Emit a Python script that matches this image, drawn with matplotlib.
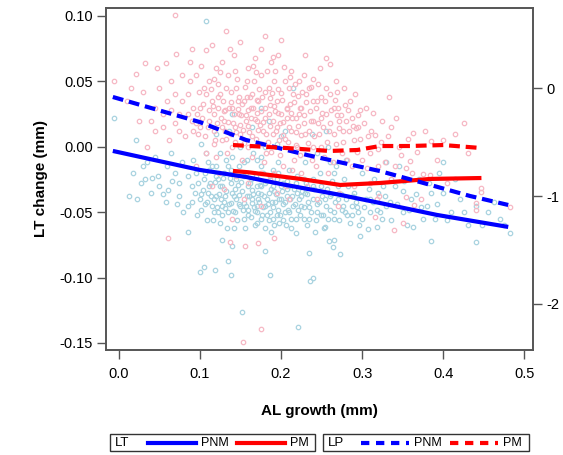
import matplotlib
matplotlib.use("Agg")
import matplotlib.pyplot as plt
from matplotlib.lines import Line2D
from matplotlib.patches import Rectangle

plt.rcParams["font.family"] = ["Liberation Sans", "DejaVu Sans"]

# fitted curves, LT on the left axis
lt_pnm_x = [-0.007, 0.1, 0.157, 0.2, 0.273, 0.322, 0.392, 0.48]
lt_pnm_y = [-0.0032, -0.0177, -0.0231, -0.0285, -0.0368, -0.043, -0.0521, -0.0613]
lt_pm_x = [0.141, 0.16, 0.224, 0.273, 0.322, 0.384, 0.447]
lt_pm_y = [-0.0185, -0.0195, -0.0246, -0.0292, -0.0277, -0.0246, -0.0239]

# fitted curves, LP on the right axis
lp_pnm_x = [-0.007, 0.1, 0.157, 0.232, 0.322, 0.371, 0.433, 0.48]
lp_pnm_y = [-0.083, -0.315, -0.481, -0.620, -0.769, -0.87, -1.0, -1.083]
lp_pm_x = [0.141, 0.2075, 0.26, 0.294, 0.322, 0.359, 0.40, 0.447]
lp_pm_y = [-0.528, -0.556, -0.583, -0.574, -0.537, -0.537, -0.528, -0.556]

# individual observations (AL growth, LT change)
pnm_points = [
    (-0.005, 0.022), (0.022, 0.005), (0.013, -0.038), (0.023, -0.040), (0.028, -0.028),
    (0.033, -0.025), (0.041, -0.024), (0.049, -0.022), (0.055, -0.036), (0.061, -0.033),
    (0.075, -0.038), (0.035, -0.012), (0.045, -0.008), (0.06, -0.015), (0.07, -0.02),
    (0.065, -0.005), (0.03, -0.015), (0.075, -0.028), (0.05, -0.03), (0.078, -0.012),
    (0.086, -0.045), (0.086, -0.065), (0.1, -0.096), (0.105, -0.092), (0.109, -0.056),
    (0.09, -0.03), (0.095, -0.02), (0.1, -0.04), (0.105, -0.025), (0.11, -0.035),
    (0.115, -0.045), (0.12, -0.015), (0.118, -0.05), (0.092, -0.01), (0.108, -0.005),
    (0.113, -0.028), (0.097, -0.052), (0.12, -0.038), (0.085, -0.022), (0.102, 0.002),
    (0.119, -0.094), (0.128, -0.071), (0.135, -0.087), (0.139, -0.098), (0.14, -0.076),
    (0.152, -0.126), (0.125, -0.03), (0.13, -0.042), (0.135, -0.05), (0.14, -0.035),
    (0.145, -0.025), (0.15, -0.045), (0.155, -0.055), (0.13, -0.02), (0.125, -0.058),
    (0.142, -0.062), (0.148, -0.015), (0.158, -0.038), (0.133, -0.01), (0.16, -0.03),
    (0.128, -0.045), (0.153, -0.048), (0.138, -0.028), (0.145, -0.04), (0.157, -0.02),
    (0.122, -0.025), (0.15, 0.0), (0.136, 0.012), (0.108, 0.096),
    (0.181, -0.080), (0.187, -0.098), (0.165, -0.04), (0.17, -0.05), (0.175, -0.03),
    (0.18, -0.045), (0.185, -0.035), (0.19, -0.055), (0.195, -0.025), (0.2, -0.04),
    (0.205, -0.05), (0.21, -0.03), (0.215, -0.045), (0.168, -0.06), (0.178, -0.02),
    (0.188, -0.065), (0.198, -0.058), (0.208, -0.038), (0.218, -0.055), (0.172, -0.035),
    (0.183, -0.052), (0.193, -0.042), (0.203, -0.028), (0.212, -0.062), (0.163, -0.025),
    (0.176, -0.015), (0.196, -0.012), (0.22, -0.035), (0.17, -0.045), (0.19, -0.03),
    (0.2, 0.008), (0.185, 0.02), (0.166, -0.005),
    (0.221, -0.138), (0.236, -0.103), (0.239, -0.100), (0.235, -0.081), (0.273, -0.082),
    (0.264, -0.077), (0.259, -0.072), (0.266, -0.071), (0.254, -0.061), (0.225, -0.045),
    (0.23, -0.035), (0.235, -0.055), (0.24, -0.04), (0.245, -0.05), (0.25, -0.03),
    (0.255, -0.045), (0.26, -0.038), (0.265, -0.055), (0.27, -0.03), (0.275, -0.048),
    (0.28, -0.04), (0.285, -0.058), (0.29, -0.035), (0.295, -0.05), (0.228, -0.025),
    (0.248, -0.02), (0.268, -0.015), (0.232, -0.06), (0.252, -0.052), (0.278, -0.025),
    (0.242, -0.065), (0.288, -0.045), (0.258, 0.0), (0.238, 0.01),
    (0.297, -0.068), (0.307, -0.063), (0.318, -0.061), (0.363, -0.061), (0.385, -0.072),
    (0.44, -0.073), (0.482, -0.066), (0.305, -0.04), (0.31, -0.05), (0.32, -0.035),
    (0.33, -0.045), (0.34, -0.03), (0.35, -0.05), (0.36, -0.04), (0.37, -0.025),
    (0.38, -0.045), (0.39, -0.055), (0.4, -0.035), (0.41, -0.05), (0.42, -0.04),
    (0.43, -0.06), (0.44, -0.045), (0.455, -0.05), (0.47, -0.055), (0.325, -0.055),
    (0.345, -0.015), (0.355, -0.06), (0.375, -0.055), (0.395, -0.02), (0.415, -0.025),
    (0.33, -0.012), (0.40, -0.012), (0.315, -0.025), (0.385, -0.035), (0.35, -0.034),
    (0.091, -0.042), (0.094, -0.035), (0.098, -0.028), (0.101, -0.048), (0.104, -0.033),
    (0.107, -0.044), (0.111, -0.018), (0.114, -0.038), (0.116, -0.056), (0.119, -0.027),
    (0.121, -0.046), (0.124, -0.036), (0.127, -0.052), (0.129, -0.024), (0.131, -0.038),
    (0.134, -0.062), (0.136, -0.044), (0.139, -0.018), (0.141, -0.049), (0.143, -0.032),
    (0.146, -0.056), (0.149, -0.037), (0.151, -0.027), (0.154, -0.043), (0.156, -0.062),
    (0.159, -0.048), (0.161, -0.038), (0.163, -0.054), (0.165, -0.033), (0.167, -0.046),
    (0.169, -0.022), (0.171, -0.058), (0.173, -0.042), (0.174, -0.029), (0.177, -0.052),
    (0.179, -0.038), (0.181, -0.062), (0.182, -0.026), (0.184, -0.044), (0.186, -0.05),
    (0.188, -0.032), (0.189, -0.042), (0.191, -0.06), (0.194, -0.036), (0.196, -0.048),
    (0.197, -0.02), (0.199, -0.052), (0.201, -0.034), (0.203, -0.044), (0.206, -0.06),
    (0.207, -0.026), (0.209, -0.048), (0.211, -0.04), (0.213, -0.055), (0.216, -0.032),
    (0.217, -0.044), (0.219, -0.066), (0.222, -0.04), (0.224, -0.052), (0.226, -0.034),
    (0.229, -0.046), (0.231, -0.028), (0.233, -0.042), (0.237, -0.05), (0.241, -0.032),
    (0.243, -0.056), (0.247, -0.042), (0.251, -0.038), (0.253, -0.062), (0.257, -0.032),
    (0.261, -0.048), (0.263, -0.026), (0.267, -0.042), (0.272, -0.056), (0.274, -0.036),
    (0.279, -0.05), (0.283, -0.03), (0.287, -0.052), (0.292, -0.042), (0.296, -0.06),
    (0.302, -0.046), (0.308, -0.032), (0.313, -0.042), (0.322, -0.05), (0.328, -0.038),
    (0.336, -0.056), (0.343, -0.044), (0.352, -0.026), (0.358, -0.048), (0.366, -0.036),
    (0.373, -0.046), (0.382, -0.028), (0.392, -0.044), (0.405, -0.056), (0.425, -0.05),
    (0.448, -0.06), (0.462, -0.042), (0.475, -0.06), (0.08, -0.05), (0.072, -0.044),
    (0.066, -0.026), (0.058, -0.042), (0.04, -0.035), (0.018, -0.02), (0.11, -0.012),
    (0.125, -0.005), (0.14, -0.008), (0.155, -0.012), (0.17, -0.01), (0.18, 0.0),
    (0.195, 0.002), (0.21, -0.018), (0.23, -0.012), (0.245, -0.005), (0.26, -0.012),
    (0.28, -0.01), (0.3, -0.02), (0.12, 0.01), (0.165, 0.015), (0.205, 0.012),
    (0.175, 0.03), (0.215, 0.045), (0.255, 0.012), (0.14, 0.025),
    (0.102, -0.036), (0.106, -0.02), (0.109, -0.042), (0.112, -0.03), (0.117, -0.04),
    (0.12, -0.022), (0.123, -0.05), (0.126, -0.04), (0.128, -0.03), (0.131, -0.047),
    (0.133, -0.034), (0.137, -0.024), (0.139, -0.043), (0.142, -0.038), (0.144, -0.05),
    (0.147, -0.029), (0.149, -0.044), (0.152, -0.034), (0.155, -0.022), (0.157, -0.045),
    (0.16, -0.052), (0.162, -0.028), (0.164, -0.043), (0.166, -0.036), (0.168, -0.049),
    (0.17, -0.03), (0.172, -0.04), (0.175, -0.055), (0.176, -0.036), (0.178, -0.046),
    (0.18, -0.028), (0.183, -0.04), (0.185, -0.056), (0.187, -0.022), (0.19, -0.046),
    (0.192, -0.034), (0.195, -0.052), (0.198, -0.04), (0.2, -0.03), (0.202, -0.056),
    (0.205, -0.042), (0.208, -0.032), (0.21, -0.05), (0.214, -0.038), (0.218, -0.028),
    (0.221, -0.048), (0.225, -0.038), (0.228, -0.055), (0.232, -0.036), (0.235, -0.046),
    (0.239, -0.03), (0.244, -0.044), (0.249, -0.052), (0.254, -0.04), (0.258, -0.055),
    (0.262, -0.036), (0.266, -0.05), (0.27, -0.04), (0.276, -0.045), (0.282, -0.052),
    (0.289, -0.038), (0.294, -0.046), (0.3, -0.055), (0.31, -0.04), (0.318, -0.048),
    (0.326, -0.03), (0.334, -0.042), (0.115, -0.015), (0.135, -0.015), (0.158, -0.01),
    (0.175, -0.008), (0.19, -0.018), (0.22, -0.022), (0.24, -0.025), (0.265, -0.02),
]

pm_points = [
    (-0.005, 0.050), (0.021, 0.056), (0.033, 0.064), (0.058, 0.064), (0.071, 0.071),
    (0.069, 0.101), (0.01, 0.035), (0.03, 0.042), (0.045, 0.03), (0.05, 0.045),
    (0.04, 0.02), (0.06, 0.035), (0.065, 0.05), (0.075, 0.025), (0.07, 0.04),
    (0.055, 0.015), (0.025, 0.02), (0.078, 0.055), (0.062, 0.005), (0.035, 0.0),
    (0.061, -0.070), (0.048, 0.06), (0.015, 0.045), (0.074, 0.012),
    (0.108, 0.074), (0.085, 0.04), (0.09, 0.02), (0.095, 0.055), (0.1, 0.03),
    (0.105, 0.045), (0.11, 0.015), (0.115, 0.035), (0.12, 0.06), (0.088, 0.065),
    (0.098, 0.01), (0.112, 0.05), (0.118, 0.025), (0.092, 0.03), (0.102, 0.062),
    (0.082, 0.008), (0.108, -0.005), (0.119, 0.005), (0.095, -0.015), (0.115, -0.03),
    (0.132, 0.0885), (0.137, -0.073), (0.156, -0.076), (0.153, -0.149), (0.125, 0.04),
    (0.13, 0.02), (0.135, 0.055), (0.14, 0.03), (0.145, 0.045), (0.15, 0.01),
    (0.155, 0.035), (0.16, 0.06), (0.128, 0.065), (0.138, 0.01), (0.148, 0.025),
    (0.158, 0.05), (0.122, 0.03), (0.142, 0.07), (0.152, -0.01), (0.133, 0.045),
    (0.143, 0.015), (0.157, 0.02), (0.127, 0.005), (0.147, 0.035), (0.137, 0.075),
    (0.124, -0.02), (0.154, -0.04), (0.14, -0.055), (0.16, 0.0), (0.131, 0.028),
    (0.175, -0.139), (0.192, -0.070), (0.172, -0.0735), (0.165, 0.04), (0.17, 0.02),
    (0.175, 0.055), (0.18, 0.03), (0.185, 0.045), (0.19, 0.01), (0.195, 0.035),
    (0.2, 0.025), (0.205, 0.05), (0.21, 0.015), (0.215, 0.04), (0.22, 0.0),
    (0.168, 0.068), (0.178, 0.012), (0.188, 0.065), (0.198, 0.005), (0.208, 0.03),
    (0.218, 0.022), (0.172, 0.035), (0.182, -0.005), (0.192, 0.05), (0.202, -0.015),
    (0.212, 0.058), (0.163, 0.022), (0.196, 0.07), (0.186, -0.025), (0.206, -0.03),
    (0.176, -0.045), (0.216, -0.01), (0.2, 0.082), (0.19, 0.0687), (0.169, 0.057),
    (0.211, 0.053), (0.221, 0.039),
    (0.225, 0.03), (0.23, 0.01), (0.235, 0.045), (0.24, 0.02), (0.245, 0.035),
    (0.25, 0.0), (0.255, 0.025), (0.26, 0.04), (0.265, 0.01), (0.27, 0.03),
    (0.275, -0.005), (0.28, 0.02), (0.285, 0.035), (0.29, 0.005), (0.295, 0.015),
    (0.228, 0.055), (0.248, 0.06), (0.238, -0.01), (0.258, -0.02), (0.268, 0.05),
    (0.278, 0.045), (0.288, -0.015), (0.232, -0.03), (0.252, 0.015), (0.298, 0.028),
    (0.26, 0.063), (0.272, -0.035), (0.3, -0.01), (0.237, 0.0457), (0.269, 0.042),
    (0.24, 0.035), (0.269, 0.024),
    (0.307, 0.008), (0.316, 0.009), (0.293, 0.0145), (0.333, 0.038), (0.425, 0.018),
    (0.363, 0.0105), (0.332, 0.008), (0.385, 0.0045), (0.40, 0.005), (0.359, -0.011),
    (0.354, -0.016), (0.361, -0.02), (0.375, -0.021), (0.384, -0.0215), (0.447, -0.0315),
    (0.447, -0.0345), (0.44, -0.043), (0.44, -0.048), (0.482, -0.046), (0.34, -0.0147),
    (0.35, -0.058), (0.339, -0.064), (0.318, -0.04), (0.316, -0.054), (0.321, -0.038),
    (0.373, -0.04), (0.364, -0.0445), (0.354, -0.0385), (0.31, -0.005), (0.325, 0.02),
    (0.345, 0.0), (0.305, 0.03), (0.32, -0.015), (0.335, -0.025), (0.31, -0.028),
    (0.095, 0.018), (0.099, 0.042), (0.103, 0.022), (0.106, 0.008), (0.111, 0.028),
    (0.114, 0.044), (0.117, 0.012), (0.121, 0.018), (0.123, 0.048), (0.126, 0.022),
    (0.129, 0.035), (0.131, 0.012), (0.134, -0.005), (0.136, 0.03), (0.139, 0.042),
    (0.141, 0.018), (0.144, 0.004), (0.146, 0.052), (0.149, 0.038), (0.151, 0.024),
    (0.153, 0.013), (0.156, 0.046), (0.159, 0.028), (0.161, 0.011), (0.162, 0.038),
    (0.164, -0.008), (0.166, 0.03), (0.167, 0.05), (0.169, 0.006), (0.171, 0.026),
    (0.173, 0.044), (0.174, 0.017), (0.177, 0.038), (0.179, -0.012), (0.181, 0.022),
    (0.183, 0.058), (0.184, 0.004), (0.186, 0.032), (0.187, 0.016), (0.189, 0.041),
    (0.191, -0.02), (0.193, 0.027), (0.194, 0.012), (0.197, 0.044), (0.199, 0.018),
    (0.201, 0.036), (0.203, 0.009), (0.204, 0.061), (0.207, 0.022), (0.209, 0.004),
    (0.211, 0.033), (0.213, 0.026), (0.214, -0.018), (0.217, 0.048), (0.219, 0.011),
    (0.222, 0.025), (0.224, -0.006), (0.226, 0.042), (0.229, 0.018), (0.231, 0.034),
    (0.233, 0.003), (0.236, 0.027), (0.239, 0.052), (0.241, 0.008), (0.243, -0.015),
    (0.246, 0.018), (0.249, 0.038), (0.251, 0.026), (0.253, -0.008), (0.256, 0.045),
    (0.259, 0.012), (0.262, 0.028), (0.264, -0.012), (0.267, 0.036), (0.271, 0.014),
    (0.274, 0.024), (0.276, 0.004), (0.279, 0.032), (0.282, -0.01), (0.284, 0.012),
    (0.287, 0.022), (0.291, 0.04), (0.294, -0.004), (0.297, 0.006), (0.302, 0.018),
    (0.306, -0.016), (0.311, 0.012), (0.314, 0.026), (0.319, -0.002), (0.323, 0.004),
    (0.328, -0.012), (0.336, 0.015), (0.342, 0.022), (0.348, -0.006), (0.356, 0.006),
    (0.368, -0.004), (0.378, 0.012), (0.392, -0.01), (0.405, -0.028), (0.415, 0.01),
    (0.43, -0.005), (0.12, -0.008), (0.13, -0.032), (0.145, -0.022), (0.16, -0.028),
    (0.175, -0.02), (0.195, -0.035), (0.21, -0.04), (0.225, -0.02), (0.245, -0.04),
    (0.27, -0.045), (0.29, -0.03), (0.085, 0.025), (0.078, 0.035), (0.07, 0.018),
    (0.065, 0.028), (0.088, 0.05), (0.092, 0.012), (0.055, 0.025), (0.045, 0.012),
    (0.09, 0.075), (0.115, 0.078), (0.15, 0.08), (0.175, 0.075), (0.23, 0.07),
    (0.255, 0.068), (0.18, 0.085), (0.125, 0.057),
    (0.112, 0.02), (0.116, 0.031), (0.118, 0.002), (0.122, 0.038), (0.127, 0.015),
    (0.13, 0.027), (0.133, 0.006), (0.135, 0.019), (0.138, 0.034), (0.14, 0.0),
    (0.142, 0.025), (0.145, 0.011), (0.147, 0.029), (0.15, 0.017), (0.152, 0.033),
    (0.154, 0.003), (0.157, 0.024), (0.158, 0.038), (0.16, 0.016), (0.163, 0.03),
    (0.165, 0.008), (0.168, 0.021), (0.17, 0.036), (0.172, 0.013), (0.175, 0.027),
    (0.177, 0.002), (0.178, 0.019), (0.18, 0.042), (0.182, 0.01), (0.185, 0.025),
    (0.187, 0.037), (0.188, -0.004), (0.19, 0.02), (0.192, 0.031), (0.195, 0.015),
    (0.197, 0.026), (0.199, -0.006), (0.2, 0.041), (0.202, 0.019), (0.205, 0.006),
    (0.207, 0.029), (0.21, 0.045), (0.212, 0.012), (0.214, 0.022), (0.216, 0.034),
    (0.218, 0.001), (0.221, 0.016), (0.223, 0.03), (0.225, 0.009), (0.228, 0.024),
    (0.231, 0.04), (0.234, 0.012), (0.237, 0.02), (0.24, 0.0), (0.243, 0.03),
    (0.247, 0.01), (0.25, 0.022), (0.254, 0.035), (0.257, 0.004), (0.261, 0.018),
    (0.265, 0.03), (0.268, 0.002), (0.272, 0.02), (0.277, 0.012), (0.283, 0.028),
    (0.289, 0.016), (0.295, 0.024), (0.1, 0.015), (0.104, 0.033), (0.108, 0.04),
    (0.097, 0.025), (0.118, 0.052), (0.143, 0.058), (0.166, 0.062), (0.193, 0.058),
    (0.222, 0.05), (0.246, 0.048),
]

x_ticks = [0.0, 0.1, 0.2, 0.3, 0.4, 0.5]
y_ticks = [0.10, 0.05, 0.00, -0.05, -0.10, -0.15]
lp_ticks = [0, -1, -2]

BLUE = "#0000ff"
RED = "#ff0000"
LIGHT_BLUE = "#a9d3e0"
LIGHT_PINK = "#f6b8c4"
AXIS_GREY = "#555555"

fig = plt.figure(figsize=(5.63, 4.55), dpi=100)
ax = fig.add_axes([0.1883, 0.2308, 0.7584, 0.7516])

ax.plot([p[0] for p in pnm_points], [p[1] for p in pnm_points], "o", ms=3.2,
        mfc="none", mec=LIGHT_BLUE, mew=0.9, zorder=1)
ax.plot([p[0] for p in pm_points], [p[1] for p in pm_points], "o", ms=3.2,
        mfc="none", mec=LIGHT_PINK, mew=0.9, zorder=1)

ax.plot(lt_pnm_x, lt_pnm_y, color=BLUE, lw=3, solid_capstyle="butt", zorder=3)
ax.plot(lt_pm_x, lt_pm_y, color=RED, lw=3, solid_capstyle="butt", zorder=3)

ax.set_xlim(-0.0154, 0.5105)
ax.set_ylim(-0.1554, 0.1061)
ax.set_xticks(x_ticks)
ax.set_xticklabels([f"{v:.1f}" for v in x_ticks])
ax.set_yticks(y_ticks)
ax.set_yticklabels([f"{v:.2f}" for v in y_ticks])
ax.set_xlabel("AL growth (mm)", fontsize=11, fontweight="bold", labelpad=16)
ax.set_ylabel("LT change (mm)", fontsize=11, fontweight="bold", labelpad=8)

ax2 = ax.twinx()
ax2.plot(lp_pnm_x, lp_pnm_y, color=BLUE, lw=3, dashes=(2.6, 1.4), zorder=3)
ax2.plot(lp_pm_x, lp_pm_y, color=RED, lw=3, dashes=(2.6, 1.4), zorder=3)
ax2.set_ylim(-2.426, 0.741)
ax2.set_yticks(lp_ticks)
ax2.set_yticklabels([str(v) for v in lp_ticks])

for a in (ax, ax2):
    for spine in a.spines.values():
        spine.set_color(AXIS_GREY)
        spine.set_linewidth(1.2)
    a.tick_params(length=6.5, width=1, color=AXIS_GREY, labelsize=10.5, pad=3)
ax.tick_params(axis="x", pad=6)

# two boxed legend strips under the x label, drawn in figure pixels
W, H = 563.0, 455.0
box_y0, box_y1 = 434, 451
mid = (box_y0 + box_y1) / 2


def legend_box(x0, x1, title, solid):
    fig.patches.append(Rectangle((x0 / W, 1 - box_y1 / H), (x1 - x0) / W,
                                 (box_y1 - box_y0) / H, transform=fig.transFigure,
                                 fill=False, ec="#333333", lw=1))
    fig.text((x0 + 5) / W, 1 - mid / H, title, fontsize=9.5, va="center", ha="left")
    entries = [(x0 + 38, BLUE, "PNM"), (x0 + 127, RED, "PM")]
    for lx, color, label in entries:
        kw = {} if solid else {"dashes": (2.0, 1.6)}
        fig.lines.append(Line2D([lx / W, (lx + 48) / W], [1 - mid / H, 1 - mid / H],
                                transform=fig.transFigure, color=color, lw=3, **kw))
        fig.text((lx + 53) / W, 1 - mid / H, label, fontsize=9, va="center", ha="left")


legend_box(110, 315, "LT", True)
legend_box(323, 529, "LP", False)

fig.savefig("out.png", dpi=100)
